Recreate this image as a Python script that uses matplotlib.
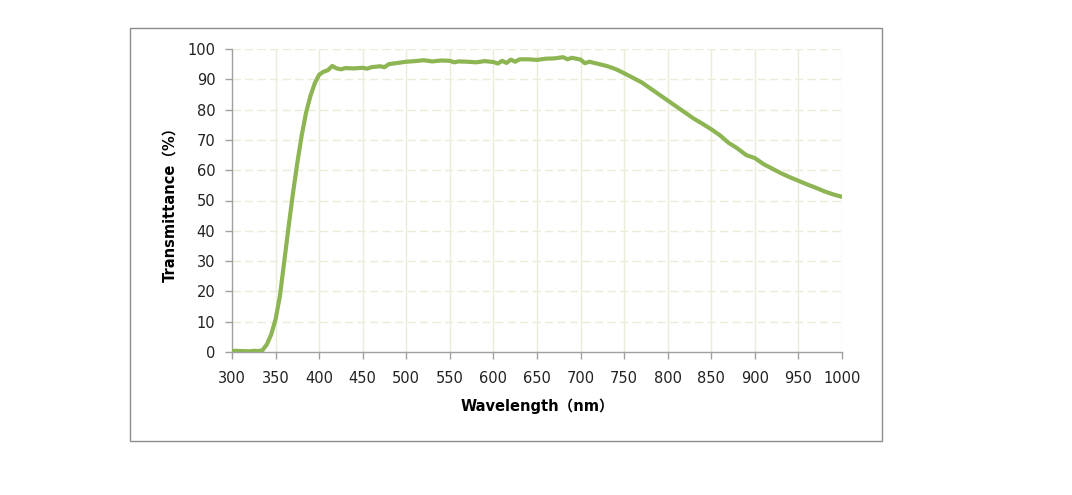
import matplotlib
matplotlib.use("Agg")
import matplotlib.pyplot as plt
from matplotlib.patches import Rectangle

wavelength = [300, 305, 310, 315, 320, 325, 330, 335, 340, 345, 350, 355, 360, 365, 370, 375,
              380, 385, 390, 395, 400, 405, 410, 415, 420, 425, 430, 440, 450, 455, 460, 470,
              475, 480, 490, 500, 510, 520, 530, 540, 550, 555, 560, 570, 580, 590, 600, 605,
              610, 615, 620, 625, 630, 640, 650, 660, 670, 680, 685, 690, 700, 705, 710, 720,
              730, 740, 750, 760, 770, 780, 790, 800, 810, 820, 830, 840, 850, 860, 870, 880,
              890, 900, 910, 920, 930, 940, 950, 960, 970, 980, 990, 1000]
transmittance = [0.3, 0.4, 0.3, 0.3, 0.2, 0.4, 0.3, 0.6, 2.5, 5.8, 10.8, 18.5, 30.0, 41.5, 52.5, 62.5,
                 71.5, 79.0, 84.5, 88.7, 91.5, 92.5, 93.0, 94.4, 93.6, 93.3, 93.7, 93.6, 93.8, 93.5, 94.0, 94.3,
                 94.0, 95.0, 95.4, 95.8, 96.0, 96.3, 95.9, 96.2, 96.1, 95.6, 95.9, 95.8, 95.6, 96.0, 95.7, 95.2,
                 96.1, 95.4, 96.5, 95.8, 96.6, 96.6, 96.4, 96.8, 96.9, 97.3, 96.6, 97.1, 96.5, 95.3, 95.8, 95.1,
                 94.4, 93.4, 92.0, 90.5, 89.0, 87.0, 85.0, 83.0, 81.0, 79.0, 77.0, 75.3, 73.5, 71.5, 69.0, 67.2,
                 65.0, 64.0, 62.0, 60.5, 59.0, 57.7, 56.5, 55.3, 54.2, 53.0, 52.0, 51.2]

x_ticks = [300, 350, 400, 450, 500, 550, 600, 650, 700, 750, 800, 850, 900, 950, 1000]
y_ticks = [0, 10, 20, 30, 40, 50, 60, 70, 80, 90, 100]

W, H = 1072, 495
fig = plt.figure(figsize=(W / 100, H / 100), dpi=100)
fig.patches.append(Rectangle((130 / W, 1 - 441 / H), (882 - 130) / W, (441 - 28) / H,
                             transform=fig.transFigure, fill=False, edgecolor="#8c8c8c", linewidth=1))

ax = fig.add_axes([232 / W, 1 - 352 / H, (842 - 232) / W, (352 - 49) / H])
ax.plot(wavelength, transmittance, color="#8db553", linewidth=3.0, solid_joinstyle="round",
        solid_capstyle="round", zorder=3)
ax.set_xlim(300, 1000)
ax.set_ylim(0, 100)
ax.set_xticks(x_ticks)
ax.set_yticks(y_ticks)
ax.tick_params(axis="both", direction="out", length=5, width=1, color="#a0a0a0",
               labelsize=10.5, labelcolor="#222222")
ax.tick_params(axis="x", pad=9)
ax.tick_params(axis="y", pad=7)
for xt in x_ticks[1:]:
    ax.axvline(xt, color="#eaedd8", linewidth=1, zorder=1)
for yt in y_ticks[1:]:
    ax.axhline(yt, color="#eaedd8", linewidth=1, linestyle=(0, (6, 3)), zorder=1)
for s in ["top", "right"]:
    ax.spines[s].set_visible(False)
for s in ["left", "bottom"]:
    ax.spines[s].set_color("#a0a0a0")
    ax.spines[s].set_linewidth(1)

fam = ["DejaVu Sans", "Noto Sans CJK SC"]
ax.set_xlabel("Wavelength（nm）", fontsize=10.5, fontweight="bold", family=fam, labelpad=9)
ax.set_ylabel("Transmittance（%）", fontsize=10.5, fontweight="bold", family=fam, labelpad=7)

fig.savefig("out.png", dpi=100)
